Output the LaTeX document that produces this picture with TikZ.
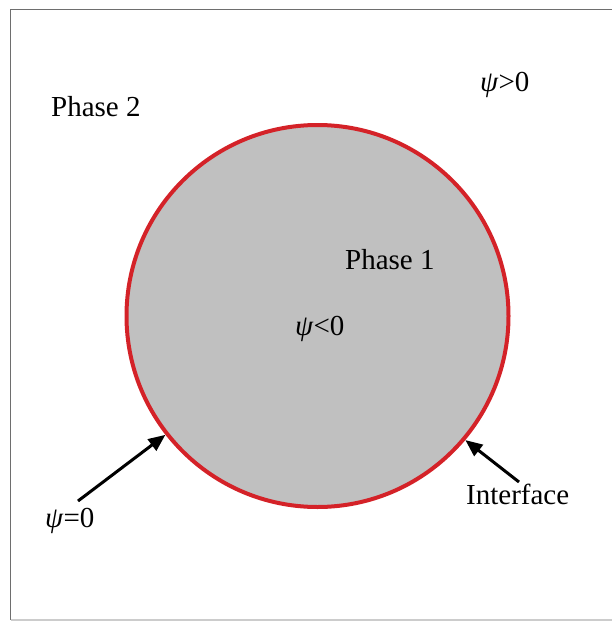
\documentclass[tikz,border=0pt]{standalone}
\usepackage{fontspec}
\setmainfont{Liberation Serif}
\usetikzlibrary{arrows.meta}
\definecolor{ifred}{RGB}{212,34,40}
\definecolor{phasegray}{RGB}{192,192,192}
\definecolor{framegray}{RGB}{110,110,110}
\tikzset{
  lbl/.style={font=\fontsize{29}{32}\selectfont, inner sep=0pt, anchor=base west},
  ptr/.style={line width=3pt, -{Triangle[length=17pt,width=14pt]}, black},
}
\begin{document}
\begin{tikzpicture}[x=1pt,y=-1pt]
\useasboundingbox (0,0) rectangle (612,621);
% frame
\draw[framegray, line width=1.2pt] (612,9.5) -- (10.5,9.5) -- (10.5,620);
\draw[gray!40, line width=1.2pt] (10.5,620) -- (612,620);
% phase 1 circle
\node[circle, draw=ifred, fill=phasegray, line width=4pt, minimum size=382pt, inner sep=0pt] (c) at (317.5,316) {};
% labels
\node[lbl] (p2) at (51,116) {Phase 2};
\node[lbl] (gt) at (480,91) {\textit{ψ}>0};
\node[lbl] (p1) at (345,269) {Phase 1};
\node[lbl] (lt) at (295,335) {\textit{ψ}<0};
\node[lbl] (eq) at (45,527) {\textit{ψ}=0};
\node[lbl] (itf) at (466,504) {Interface};
% arrows
\coordinate (a1) at (78,501);
\coordinate (a2) at (519,482);
\draw[ptr] (a1) -- (c.218);
\draw[ptr] (a2) -- (c.320);
\end{tikzpicture}
\end{document}
